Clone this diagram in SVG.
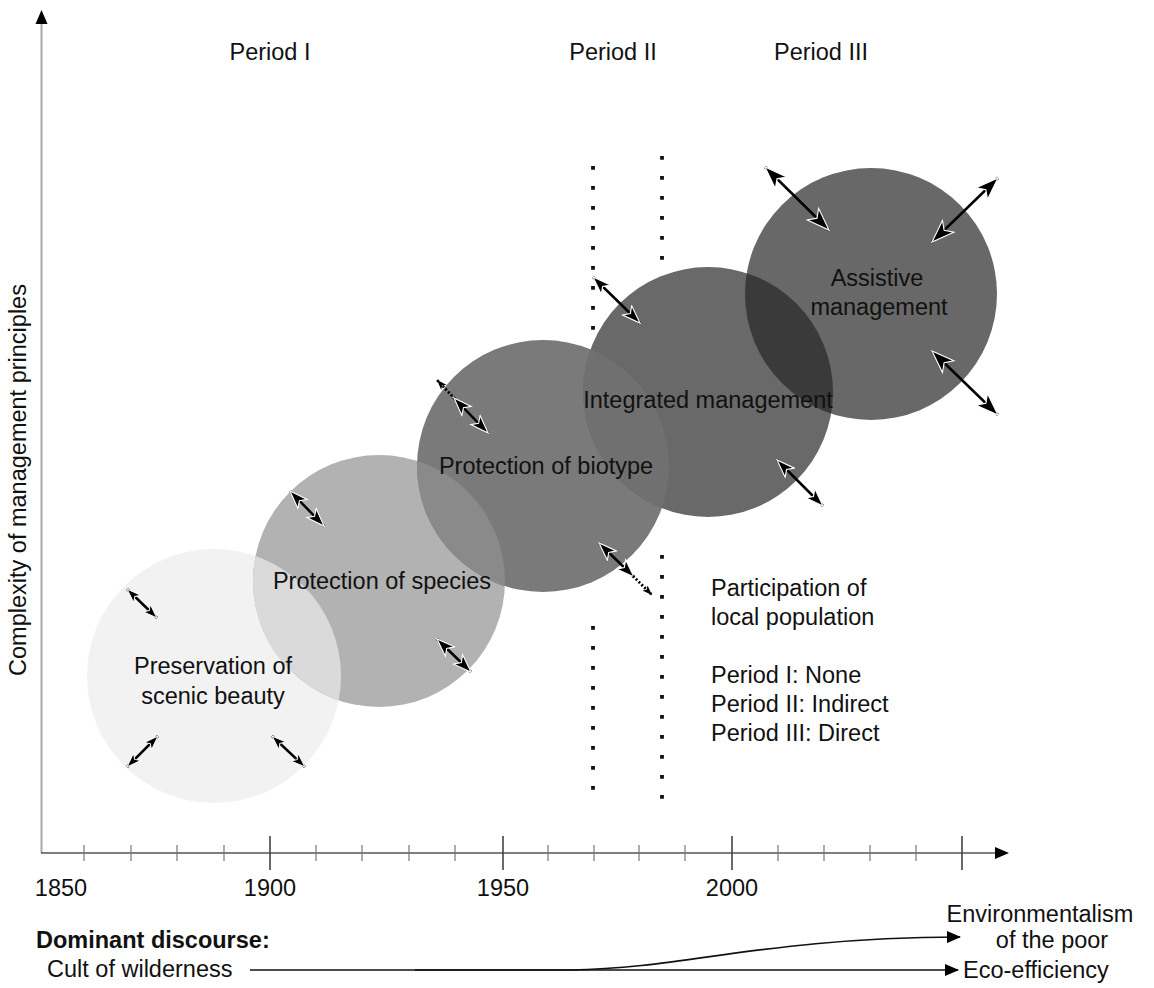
<svg xmlns="http://www.w3.org/2000/svg" width="1154" height="988" viewBox="0 0 1154 988">
<style>
text{font-family:"Liberation Sans",Arial,sans-serif;font-size:23.5px;fill:#111}
.c{text-anchor:middle}
.dot{stroke:#111;stroke-width:3.8;stroke-dasharray:3.8 16.2;fill:none}
.arr{stroke:#000;stroke-width:2.5;fill:none}
.dash{stroke:#000;stroke-width:2.8;stroke-dasharray:2 2;fill:none}
.minor{stroke:#777;stroke-width:1.2}
.major{stroke:#444;stroke-width:1.6}
</style>
<defs>
<marker id="aB" viewBox="0 0 20 16" refX="19" refY="8" markerWidth="25" markerHeight="20" markerUnits="userSpaceOnUse" orient="auto-start-reverse"><path d="M1,1.5 L19,8 L1,14.5 L5.5,8 Z" fill="#000" stroke="#fff" stroke-width="0.9"/></marker>
<marker id="aM" viewBox="0 0 20 16" refX="19" refY="8" markerWidth="20" markerHeight="16" markerUnits="userSpaceOnUse" orient="auto-start-reverse"><path d="M1,1.5 L19,8 L1,14.5 L5.5,8 Z" fill="#000" stroke="#fff" stroke-width="1.1"/></marker>
<marker id="aS" viewBox="0 0 20 16" refX="19" refY="8" markerWidth="16" markerHeight="13" markerUnits="userSpaceOnUse" orient="auto-start-reverse"><path d="M1,1.5 L19,8 L1,14.5 L5.5,8 Z" fill="#000" stroke="#fff" stroke-width="1.2"/></marker>
<marker id="aT" viewBox="0 0 20 16" refX="19" refY="8" markerWidth="11" markerHeight="9" markerUnits="userSpaceOnUse" orient="auto"><path d="M1,1.5 L19,8 L1,14.5 L5.5,8 Z" fill="#000"/></marker>
<marker id="aL" viewBox="0 0 14 12" refX="13" refY="6" markerWidth="14" markerHeight="12" markerUnits="userSpaceOnUse" orient="auto"><path d="M0,0 L14,6 L0,12 Z" fill="#000"/></marker>
<clipPath id="k1"><circle cx="214" cy="676" r="127"/></clipPath>
<clipPath id="k2"><circle cx="379" cy="581" r="126"/></clipPath>
<clipPath id="k3"><circle cx="543" cy="466" r="126"/></clipPath>
<clipPath id="k4"><circle cx="708" cy="392" r="125"/></clipPath>
</defs>

<g id="axes">
<line x1="41.5" y1="853" x2="41.5" y2="22" stroke="#aaa" stroke-width="2"/>
<polygon points="41.5,10 35.5,24 47.5,24" fill="#000"/>
<line x1="41" y1="853" x2="996" y2="853" stroke="#555" stroke-width="1.6"/>
<polygon points="1009,853 995,847 995,859" fill="#000"/>
<g class="minor">
<line x1="84" y1="845" x2="84" y2="861"/><line x1="131" y1="845" x2="131" y2="861"/><line x1="177" y1="845" x2="177" y2="861"/><line x1="224" y1="845" x2="224" y2="861"/>
<line x1="316" y1="845" x2="316" y2="861"/><line x1="362" y1="845" x2="362" y2="861"/><line x1="409" y1="845" x2="409" y2="861"/><line x1="455" y1="845" x2="455" y2="861"/>
<line x1="548" y1="845" x2="548" y2="861"/><line x1="594" y1="845" x2="594" y2="861"/><line x1="639" y1="845" x2="639" y2="861"/><line x1="685" y1="845" x2="685" y2="861"/>
<line x1="778" y1="845" x2="778" y2="861"/><line x1="824" y1="845" x2="824" y2="861"/><line x1="870" y1="845" x2="870" y2="861"/><line x1="916" y1="845" x2="916" y2="861"/>
</g>
<g class="major">
<line x1="270" y1="836" x2="270" y2="870"/><line x1="503" y1="836" x2="503" y2="870"/><line x1="732" y1="836" x2="732" y2="870"/><line x1="962" y1="836" x2="962" y2="870"/>
</g>
<text class="c" x="61" y="896">1850</text>
<text class="c" x="270" y="896">1900</text>
<text class="c" x="503" y="896">1950</text>
<text class="c" x="732" y="896">2000</text>
<text class="c" transform="translate(26,480) rotate(-90)">Complexity of management principles</text>
</g>

<g id="periods">
<text class="c" x="270" y="60">Period I</text>
<text class="c" x="613" y="60">Period II</text>
<text class="c" x="821" y="60">Period III</text>
</g>

<g id="dividers">
<line class="dot" x1="593" y1="166" x2="593" y2="332"/>
<line class="dot" x1="593" y1="626" x2="593" y2="792"/>
<line class="dot" x1="662" y1="156" x2="662" y2="262"/>
<line class="dot" x1="662" y1="555" x2="662" y2="800"/>
</g>

<g id="node-scenic">
<circle cx="214" cy="676" r="127" fill="#f2f2f2"/>
</g>
<g id="node-species">
<circle cx="379" cy="581" r="126" fill="#b2b2b2"/>
<circle cx="379" cy="581" r="126" fill="#dadada" clip-path="url(#k1)"/>
</g>
<g id="node-biotype">
<circle cx="543" cy="466" r="126" fill="#7a7a7a"/>
<circle cx="543" cy="466" r="126" fill="#8a8a8a" clip-path="url(#k2)"/>
</g>
<g id="node-integrated">
<circle cx="708" cy="392" r="125" fill="#696969"/>
<circle cx="708" cy="392" r="125" fill="#707070" clip-path="url(#k3)"/>
</g>
<g id="node-assistive">
<circle cx="871" cy="294" r="126" fill="#686868"/>
<circle cx="871" cy="294" r="126" fill="#3a3a3a" clip-path="url(#k4)"/>
</g>

<g id="connectors">
<line class="arr" x1="127" y1="589" x2="157" y2="618" marker-start="url(#aS)" marker-end="url(#aS)"/>
<line class="arr" x1="127" y1="767" x2="158" y2="736" marker-start="url(#aS)" marker-end="url(#aS)"/>
<line class="arr" x1="272" y1="736" x2="305" y2="767" marker-start="url(#aS)" marker-end="url(#aS)"/>
<line class="arr" x1="290" y1="491" x2="324" y2="526" marker-start="url(#aM)" marker-end="url(#aM)"/>
<line class="arr" x1="437" y1="639" x2="471" y2="672" marker-start="url(#aM)" marker-end="url(#aM)"/>
<line class="dash" x1="455" y1="399" x2="437" y2="380" marker-end="url(#aT)"/>
<line class="arr" x1="454" y1="398" x2="488" y2="433" marker-start="url(#aM)" marker-end="url(#aM)"/>
<line class="arr" x1="599" y1="543" x2="634" y2="577" marker-start="url(#aM)" marker-end="url(#aM)"/>
<line class="dash" x1="633" y1="576" x2="652" y2="595" marker-end="url(#aT)"/>
<line class="arr" x1="593" y1="277" x2="640" y2="323" marker-start="url(#aM)" marker-end="url(#aM)"/>
<line class="arr" x1="777" y1="460" x2="823" y2="506" marker-start="url(#aM)" marker-end="url(#aM)"/>
<line class="arr" x1="765" y1="167" x2="829" y2="230" marker-start="url(#aB)" marker-end="url(#aB)"/>
<line class="arr" x1="998" y1="178" x2="932" y2="242" marker-start="url(#aB)" marker-end="url(#aB)"/>
<line class="arr" x1="932" y1="351" x2="998" y2="415" marker-start="url(#aB)" marker-end="url(#aB)"/>
<line x1="250" y1="970" x2="958" y2="970" stroke="#111" stroke-width="1.3" marker-end="url(#aL)"/>
<path d="M415,970 L570,970 C690,968 760,938 960,937" stroke="#111" stroke-width="1.6" fill="none" marker-end="url(#aL)"/>
</g>

<g id="labels">
<text class="c" x="213" y="674">Preservation of</text>
<text class="c" x="213" y="704">scenic beauty</text>
<text class="c" x="382" y="589">Protection of species</text>
<text class="c" x="546" y="474">Protection of biotype</text>
<text class="c" x="708" y="408">Integrated management</text>
<text class="c" x="877" y="286">Assistive</text>
<text class="c" x="879" y="315">management</text>
<text x="711" y="596">Participation of</text>
<text x="711" y="625">local population</text>
<text x="711" y="683">Period I: None</text>
<text x="711" y="712">Period II: Indirect</text>
<text x="711" y="741">Period III: Direct</text>
<text class="c" x="1040" y="922">Environmentalism</text>
<text class="c" x="1052" y="948">of the poor</text>
<text x="36" y="948" font-weight="bold">Dominant discourse:</text>
<text x="47" y="977">Cult of wilderness</text>
<text x="963" y="978">Eco-efficiency</text>
</g>
</svg>
